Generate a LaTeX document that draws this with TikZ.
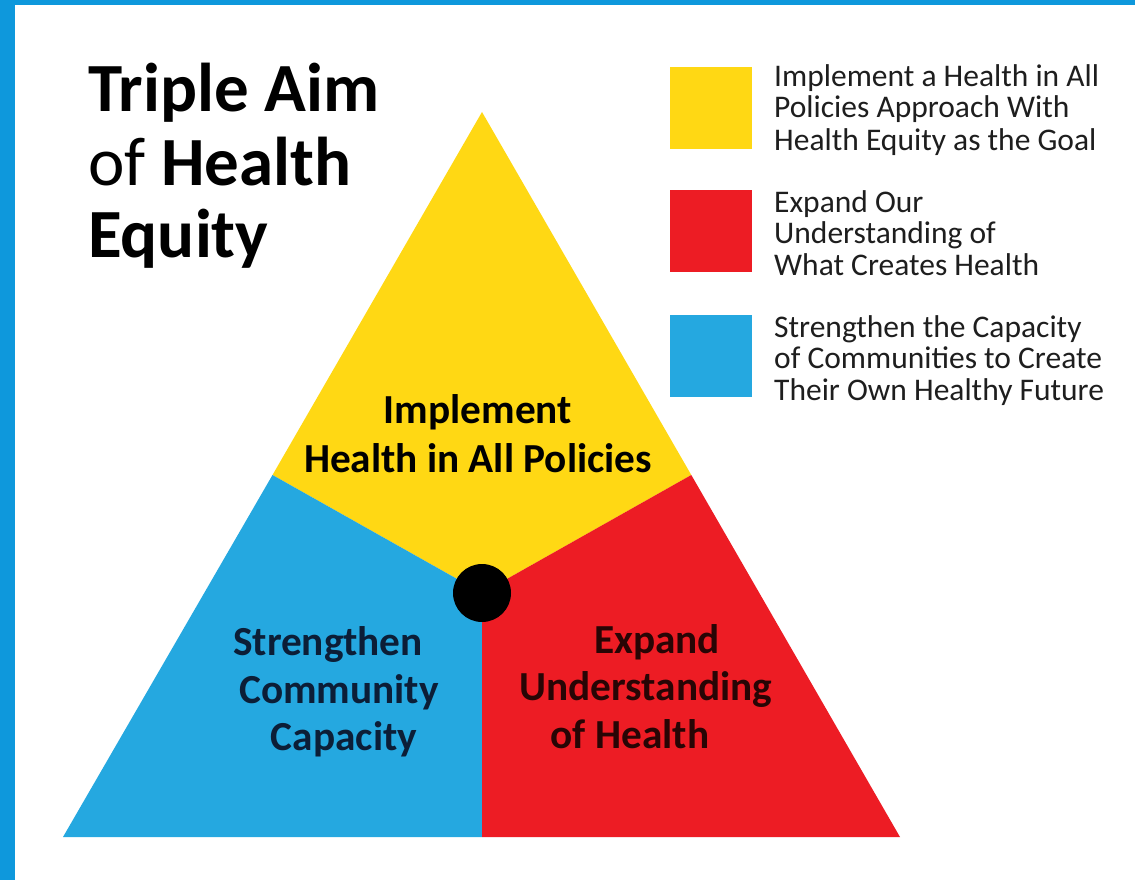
\documentclass[tikz,border=0pt]{standalone}
\usepackage{fontspec}
\setmainfont{Carlito}
\definecolor{borderblue}{RGB}{14,152,220}
\definecolor{triblue}{RGB}{37,168,224}
\definecolor{trired}{RGB}{237,28,36}
\definecolor{triyellow}{RGB}{255,216,20}
\definecolor{bluetext}{RGB}{12,30,55}
\definecolor{redtext}{RGB}{40,5,5}
\definecolor{legtext}{RGB}{30,30,30}
\begin{document}
\begin{tikzpicture}[x=1pt,y=-1pt,
  titletext/.style={anchor=base west,inner sep=0pt,font=\fontsize{69}{72}\selectfont},
  regiontext/.style={anchor=base,inner sep=0pt,font=\bfseries\fontsize{41.3}{48}\selectfont},
  legendtext/.style={anchor=base west,inner sep=0pt,text=legtext,font=\fontsize{31.5}{31}\selectfont},
  legendbox/.style={inner sep=0pt,minimum width=82pt,minimum height=82pt,anchor=north west}]
% background and border
\fill[white] (0,0) rectangle (1135,880);
\fill[borderblue] (0,0) rectangle (1135,5);
\fill[borderblue] (0,0) rectangle (15,880);
\useasboundingbox (0,0) rectangle (1135,880);
% triangle points
\coordinate (apex) at (482,112);
\coordinate (bl) at (63,837);
\coordinate (br) at (900,837);
\coordinate (ctr) at (482,593);
\coordinate (lm) at (272.5,475);
\coordinate (rm) at (691.3,475);
\coordinate (bm) at (482,837);
\fill[triyellow] (apex) -- (lm) -- (ctr) -- (rm) -- cycle;
\fill[triblue] (lm) -- (bl) -- (bm) -- (ctr) -- cycle;
\fill[trired] (rm) -- (br) -- (bm) -- (ctr) -- cycle;
\fill[black] (ctr) circle (29);
% title
\node[titletext] (t1) at (88,112) {\bfseries Triple Aim};
\node[titletext] (t2) at (88,185) {of \bfseries Health};
\node[titletext] (t3) at (88,257) {\bfseries Equity};
% region labels
\node[regiontext,text=black] (y1) at (478,423) {Implement};
\node[regiontext,text=black] (y2) at (478,472) {Health in All Policies};
\node[regiontext,text=bluetext] (b1) at (328,655) {Strengthen};
\node[regiontext,text=bluetext] (b2) at (339,703) {Community};
\node[regiontext,text=bluetext] (b3) at (344,750) {Capacity};
\node[regiontext,text=redtext] (r1) at (657,653) {Expand};
\node[regiontext,text=redtext] (r2) at (646,700) {Understanding};
\node[regiontext,text=redtext] (r3) at (630,748) {of Health};
% legend
\node[legendbox,fill=triyellow] (ky) at (670,67) {};
\node[legendbox,fill=trired] (kr) at (670,190) {};
\node[legendbox,fill=triblue] (kb) at (670,315) {};
\node[legendtext] (ly1) at (774,87) {Implement a Health in All};
\node[legendtext] (ly2) at (774,118) {Policies Approach With};
\node[legendtext] (ly3) at (774,150) {Health Equity as the Goal};
\node[legendtext] (lr1) at (774,212) {Expand Our};
\node[legendtext] (lr2) at (774,243) {Understanding of};
\node[legendtext] (lr3) at (774,275) {What Creates Health};
\node[legendtext] (lb1) at (774,337) {Strengthen the Capacity};
\node[legendtext] (lb2) at (774,368) {of Communities to Create};
\node[legendtext] (lb3) at (774,400) {Their Own Healthy Future};
\end{tikzpicture}
\end{document}
